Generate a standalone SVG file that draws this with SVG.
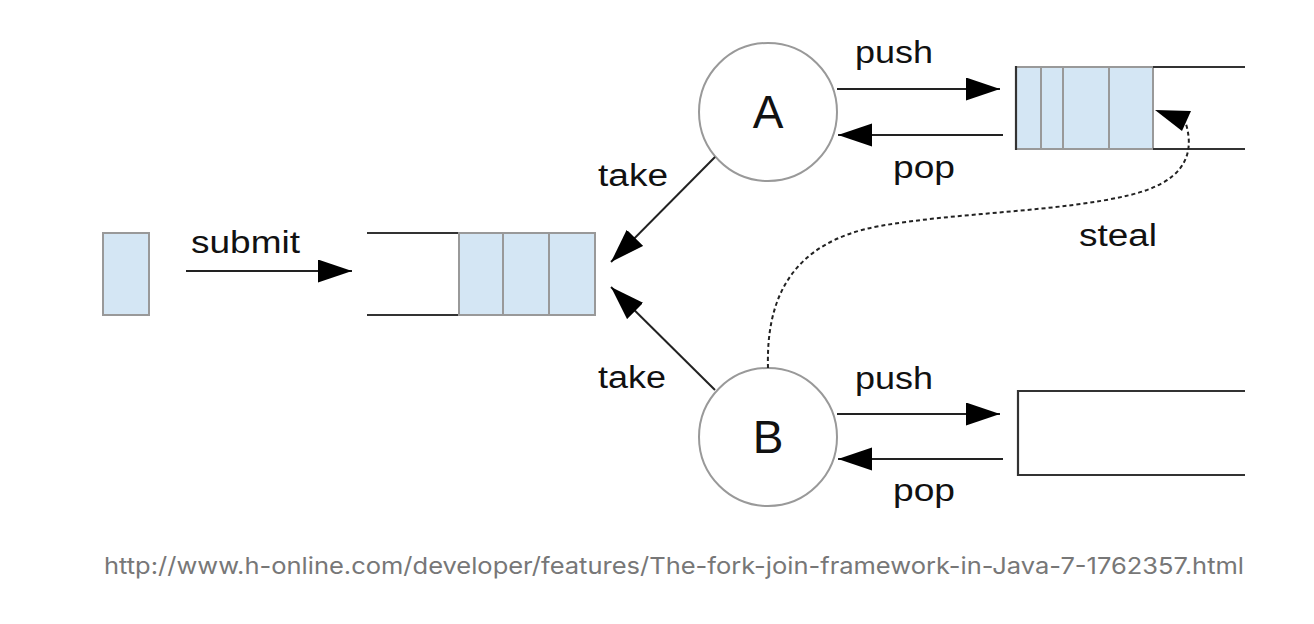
<svg xmlns="http://www.w3.org/2000/svg" width="1314" height="624" viewBox="0 0 1314 624">
<style>
.lbl{font-family:"Liberation Sans",Arial,sans-serif;font-size:31px;fill:#111}
.big{font-family:"Liberation Sans",Arial,sans-serif;font-size:46px;fill:#111}
.cell{fill:#d4e6f4;stroke:#999;stroke-width:2}
.edge{stroke:#333;stroke-width:2.2;fill:none}
.conn{stroke:#222;stroke-width:2;fill:none}
.node{fill:#fff;stroke:#999;stroke-width:2}
.cap{font-family:Inter,"Liberation Sans",sans-serif;font-size:23px;fill:#777}
</style>
<defs>
<marker id="ah" markerUnits="userSpaceOnUse" markerWidth="36" markerHeight="24" refX="34" refY="11.5" orient="auto">
<path d="M0,0 L34,11.5 L0,23 z" fill="#000"/>
</marker>
</defs>
<rect width="1314" height="624" fill="#fff"/>
<g id="task">
<rect class="cell" x="103" y="233" width="46" height="82"/>
</g>
<g id="queue-main">
<line class="edge" x1="367" y1="233" x2="459" y2="233"/>
<line class="edge" x1="367" y1="315" x2="459" y2="315"/>
<rect class="cell" x="459" y="233" width="44" height="82"/>
<rect class="cell" x="503" y="233" width="46" height="82"/>
<rect class="cell" x="549" y="233" width="46" height="82"/>
</g>
<g id="queue-a">
<rect class="cell" x="1016" y="67" width="25" height="82"/>
<rect class="cell" x="1041" y="67" width="22" height="82"/>
<rect class="cell" x="1063" y="67" width="46" height="82"/>
<rect class="cell" x="1109" y="67" width="44" height="82"/>
<line class="edge" x1="1016" y1="66" x2="1016" y2="150"/>
<line class="edge" x1="1153" y1="67" x2="1245" y2="67"/>
<line class="edge" x1="1153" y1="149" x2="1245" y2="149"/>
</g>
<g id="queue-b">
<path class="edge" d="M1245,391 H1018 V475 H1245"/>
</g>
<g id="node-a">
<circle class="node" cx="768" cy="112" r="69"/>
<text class="big" x="768" y="128" text-anchor="middle">A</text>
</g>
<g id="node-b">
<circle class="node" cx="768" cy="437" r="69"/>
<text class="big" x="768" y="453" text-anchor="middle">B</text>
</g>
<g id="connectors">
<line class="conn" x1="186" y1="271" x2="352" y2="271" marker-end="url(#ah)"/>
<line class="conn" x1="837" y1="89" x2="1000" y2="89" marker-end="url(#ah)"/>
<line class="conn" x1="1003" y1="135" x2="838" y2="135" marker-end="url(#ah)"/>
<line class="conn" x1="837" y1="414" x2="1000" y2="414" marker-end="url(#ah)"/>
<line class="conn" x1="1003" y1="459" x2="838" y2="459" marker-end="url(#ah)"/>
<line class="conn" x1="715" y1="157" x2="611" y2="262" marker-end="url(#ah)"/>
<line class="conn" x1="715" y1="390" x2="611" y2="287" marker-end="url(#ah)"/>
<path d="M768,368 C766,300 790,242 880,226 C960,212 1060,212 1130,195 C1180,183 1196,158 1186,124" fill="none" stroke="#222" stroke-width="2" stroke-dasharray="4,3"/>
<polygon points="1155,110 1191,111 1182,131" fill="#000"/>
</g>
<g id="labels">
<text class="lbl" x="191" y="253" textLength="109" lengthAdjust="spacingAndGlyphs">submit</text>
<text class="lbl" x="855" y="63" textLength="78" lengthAdjust="spacingAndGlyphs">push</text>
<text class="lbl" x="893" y="178" textLength="62" lengthAdjust="spacingAndGlyphs">pop</text>
<text class="lbl" x="598" y="186" textLength="70" lengthAdjust="spacingAndGlyphs">take</text>
<text class="lbl" x="598" y="388" textLength="68" lengthAdjust="spacingAndGlyphs">take</text>
<text class="lbl" x="1079" y="246" textLength="78" lengthAdjust="spacingAndGlyphs">steal</text>
<text class="lbl" x="855" y="389" textLength="78" lengthAdjust="spacingAndGlyphs">push</text>
<text class="lbl" x="893" y="501" textLength="62" lengthAdjust="spacingAndGlyphs">pop</text>
</g>
<text class="cap" x="104" y="574" textLength="1140" lengthAdjust="spacingAndGlyphs">http://www.h-online.com/developer/features/The-fork-join-framework-in-Java-7-1762357.html</text>
</svg>
